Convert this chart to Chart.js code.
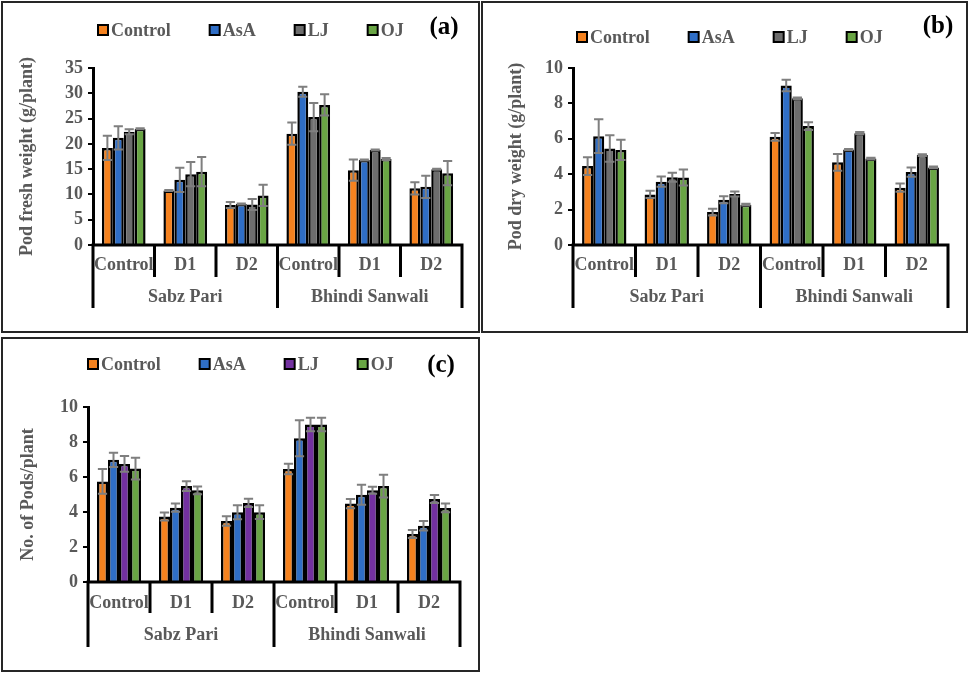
<!DOCTYPE html>
<html>
<head>
<meta charset="utf-8">
<script src="https://cdn.jsdelivr.net/npm/chart.js@4.4.1/dist/chart.umd.min.js"></script>
<style>
  html, body { margin: 0; padding: 0; background: #fff; }
  body { width: 969px; height: 673px; position: relative; overflow: hidden; }
  .panel { position: absolute; border: 2px solid #262626; box-sizing: border-box; background: #fff; }
  .panel canvas { position: absolute; left: 0; top: 0; }
</style>
</head>
<body>
<div class="panel" style="left:1px;top:1px;width:479px;height:332px"><canvas id="ca" width="475" height="328"></canvas></div>
<div class="panel" style="left:481px;top:1px;width:487px;height:332px"><canvas id="cb" width="483" height="328"></canvas></div>
<div class="panel" style="left:1px;top:337px;width:479px;height:335px"><canvas id="cc" width="475" height="331"></canvas></div>
<script>
// ---------- categories ----------
const groups = ['Sabz Pari', 'Bhindi Sanwali'];
const treatments = ['Control', 'D1', 'D2'];
const seriesNames = ['Control', 'AsA', 'LJ', 'OJ'];

// ---------- (a) Pod fresh weight (g/plant) ----------
const freshControl = [19.2, 10.8, 7.9, 22.0, 14.8, 11.2];
const freshAsA     = [21.2, 12.9, 8.1, 30.3, 16.8, 11.5];
const freshLJ      = [22.4, 14.0, 8.0, 25.3, 18.8, 15.0];
const freshOJ      = [23.0, 14.5, 9.8, 27.7, 17.0, 14.2];
const freshControlErr = [2.4, 0.1, 0.6, 2.2, 2.1, 1.2];
const freshAsAErr     = [2.3, 2.4, 0.1, 1.0, 0.1, 2.2];
const freshLJErr      = [0.5, 2.4, 1.1, 2.8, 0.1, 0.1];
const freshOJErr      = [0.1, 2.9, 2.1, 2.1, 0.2, 2.4];

// ---------- (b) Pod dry weight (g/plant) ----------
const dryControl = [4.46, 2.86, 1.86, 6.11, 4.67, 3.24];
const dryAsA     = [6.15, 3.58, 2.56, 9.01, 5.39, 4.12];
const dryLJ      = [5.45, 3.83, 2.88, 8.29, 6.32, 5.08];
const dryOJ      = [5.37, 3.81, 2.28, 6.72, 4.88, 4.38];
const dryControlErr = [0.50, 0.20, 0.19, 0.22, 0.47, 0.23];
const dryAsAErr     = [0.95, 0.29, 0.20, 0.32, 0.03, 0.26];
const dryLJErr      = [0.75, 0.25, 0.14, 0.05, 0.06, 0.05];
const dryOJErr      = [0.57, 0.45, 0.05, 0.22, 0.05, 0.05];

// ---------- (c) No. of Pods/plant ----------
const podsControl = [5.75, 3.74, 3.49, 6.46, 4.48, 2.74];
const podsAsA     = [6.98, 4.25, 3.99, 8.22, 4.99, 3.21];
const podsLJ      = [6.75, 5.48, 4.52, 9.00, 5.24, 4.74];
const podsOJ      = [6.48, 5.24, 3.99, 9.00, 5.48, 4.23];
const podsControlErr = [0.71, 0.23, 0.27, 0.30, 0.26, 0.23];
const podsAsAErr     = [0.41, 0.23, 0.40, 1.03, 0.57, 0.27];
const podsLJErr      = [0.45, 0.28, 0.24, 0.38, 0.20, 0.23];
const podsOJErr      = [0.62, 0.22, 0.39, 0.38, 0.65, 0.25];

// ---------- styling ----------
const ORANGE = '#F5821F', BLUE = '#2F6EC6', GRAY = '#6D6D6D', GREEN = '#69A544', PURPLE = '#7331A0';
const TEXT = '#595959';
const FONT = "'Liberation Serif', 'Times New Roman', serif";
const FS = 18;

Chart.defaults.font.family = FONT;
Chart.defaults.font.weight = 'bold';
Chart.defaults.font.size = FS;
Chart.defaults.color = TEXT;

const labels = groups.flatMap(() => treatments);

const decoPlugin = {
  id: 'deco',
  afterDatasetsDraw(chart) {
    const ctx = chart.ctx;
    const y = chart.scales.y;
    ctx.save();
    ctx.strokeStyle = '#7F7F7F';
    ctx.lineWidth = 2;
    chart.data.datasets.forEach((ds, i) => {
      const meta = chart.getDatasetMeta(i);
      meta.data.forEach((el, j) => {
        const v = ds.data[j], e = ds.errors[j];
        const yt = y.getPixelForValue(v + e), yb = y.getPixelForValue(v - e);
        const hw = el.width * 0.42;
        ctx.beginPath();
        ctx.moveTo(el.x, yt); ctx.lineTo(el.x, yb);
        ctx.moveTo(el.x - hw, yt); ctx.lineTo(el.x + hw, yt);
        ctx.moveTo(el.x - hw, yb); ctx.lineTo(el.x + hw, yb);
        ctx.stroke();
      });
    });
    ctx.restore();
  },
  afterDraw(chart, args, opts) {
    const ctx = chart.ctx;
    const x = chart.scales.x;
    const ca = chart.chartArea;
    const n = chart.data.labels.length;
    const per = treatments.length;
    const bound = i => i === 0 ? ca.left : (i === n ? ca.right : (x.getPixelForValue(i - 1) + x.getPixelForValue(i)) / 2);
    ctx.save();
    // x axis line and separators
    ctx.strokeStyle = '#000';
    ctx.lineWidth = 3;
    ctx.beginPath();
    ctx.moveTo(ca.left - 1.5, ca.bottom);
    ctx.lineTo(ca.right + 1.5, ca.bottom);
    for (let i = 0; i <= n; i++) {
      const bx = bound(i);
      const len = (i % per === 0) ? opts.groupLine : opts.catLine;
      ctx.moveTo(bx, ca.bottom);
      ctx.lineTo(bx, ca.bottom + len);
    }
    ctx.stroke();
    // category labels
    ctx.fillStyle = TEXT;
    ctx.font = "bold " + FS + "px " + FONT;
    ctx.textAlign = 'center';
    ctx.textBaseline = 'middle';
    chart.data.labels.forEach((lab, i) => {
      ctx.fillText(lab, (bound(i) + bound(i + 1)) / 2, ca.bottom + opts.catY);
    });
    groups.forEach((g, k) => {
      ctx.fillText(g, (bound(k * per) + bound((k + 1) * per)) / 2, ca.bottom + opts.groupY);
    });
    // legend
    let lx = opts.legendX;
    const ly = opts.legendY;
    ctx.textAlign = 'left';
    chart.data.datasets.forEach(ds => {
      ctx.fillStyle = ds.backgroundColor;
      ctx.fillRect(lx, ly - 5, 10, 10);
      ctx.strokeStyle = '#000';
      ctx.lineWidth = 2;
      ctx.strokeRect(lx, ly - 5, 10, 10);
      ctx.fillStyle = TEXT;
      ctx.fillText(ds.label, lx + 13, ly + 1);
      lx += 13 + ctx.measureText(ds.label).width + opts.legendGap;
    });
    // panel tag
    ctx.fillStyle = '#000';
    ctx.font = "bold 25px " + FONT;
    ctx.textAlign = 'center';
    ctx.fillText(opts.tag, opts.tagX, opts.tagY);
    ctx.restore();
  }
};

function makeChart(id, series, errs, colors, yTitle, yMax, yStep, layout, yWidth, titlePad, deco) {
  return new Chart(document.getElementById(id), {
    type: 'bar',
    data: {
      labels: labels,
      datasets: series.map((s, i) => ({
        label: seriesNames[i],
        data: s,
        errors: errs[i],
        backgroundColor: colors[i],
        borderColor: '#000',
        borderWidth: 2.5,
        categoryPercentage: 0.71,
        barPercentage: 1.0
      }))
    },
    options: {
      responsive: false,
      animation: false,
      devicePixelRatio: 1,
      layout: { padding: layout },
      plugins: {
        legend: { display: false },
        tooltip: { enabled: false },
        deco: deco
      },
      scales: {
        x: { display: false },
        y: {
          min: 0, max: yMax,
          ticks: { stepSize: yStep, padding: 5, color: TEXT, font: { size: FS, weight: 'bold' } },
          grid: { drawOnChartArea: false, drawTicks: true, tickLength: 5, color: '#000', lineWidth: 2 },
          border: { display: true, color: '#000', width: 3 },
          title: { display: true, text: yTitle, color: TEXT, font: { size: FS, weight: 'bold' }, padding: { top: titlePad, bottom: 0 } },
          afterFit(scale) { scale.width = yWidth; }
        }
      }
    },
    plugins: [decoPlugin]
  });
}

makeChart('ca',
  [freshControl, freshAsA, freshLJ, freshOJ],
  [freshControlErr, freshAsAErr, freshLJErr, freshOJErr],
  [ORANGE, BLUE, GRAY, GREEN],
  'Pod fresh weight (g/plant)', 35, 5,
  { left: 0, top: 65, right: 16, bottom: 86 }, 90, 14,
  { catLine: 32, groupLine: 63, catY: 20, groupY: 52, legendX: 95, legendY: 27, legendGap: 39, tag: '(a)', tagX: 441, tagY: 25 });

makeChart('cb',
  [dryControl, dryAsA, dryLJ, dryOJ],
  [dryControlErr, dryAsAErr, dryLJErr, dryOJErr],
  [ORANGE, BLUE, GRAY, GREEN],
  'Pod dry weight (g/plant)', 10, 2,
  { left: 0, top: 65, right: 18, bottom: 86 }, 90, 23,
  { catLine: 32, groupLine: 63, catY: 20, groupY: 52, legendX: 94, legendY: 34, legendGap: 39, tag: '(b)', tagX: 455, tagY: 24 });

makeChart('cc',
  [podsControl, podsAsA, podsLJ, podsOJ],
  [podsControlErr, podsAsAErr, podsLJErr, podsOJErr],
  [ORANGE, BLUE, PURPLE, GREEN],
  'No. of Pods/plant', 10, 2,
  { left: 0, top: 68, right: 18, bottom: 88 }, 85, 15,
  { catLine: 31, groupLine: 65, catY: 21, groupY: 53, legendX: 85, legendY: 25, legendGap: 39, tag: '(c)', tagX: 438, tagY: 27 });
</script>
</body>
</html>
